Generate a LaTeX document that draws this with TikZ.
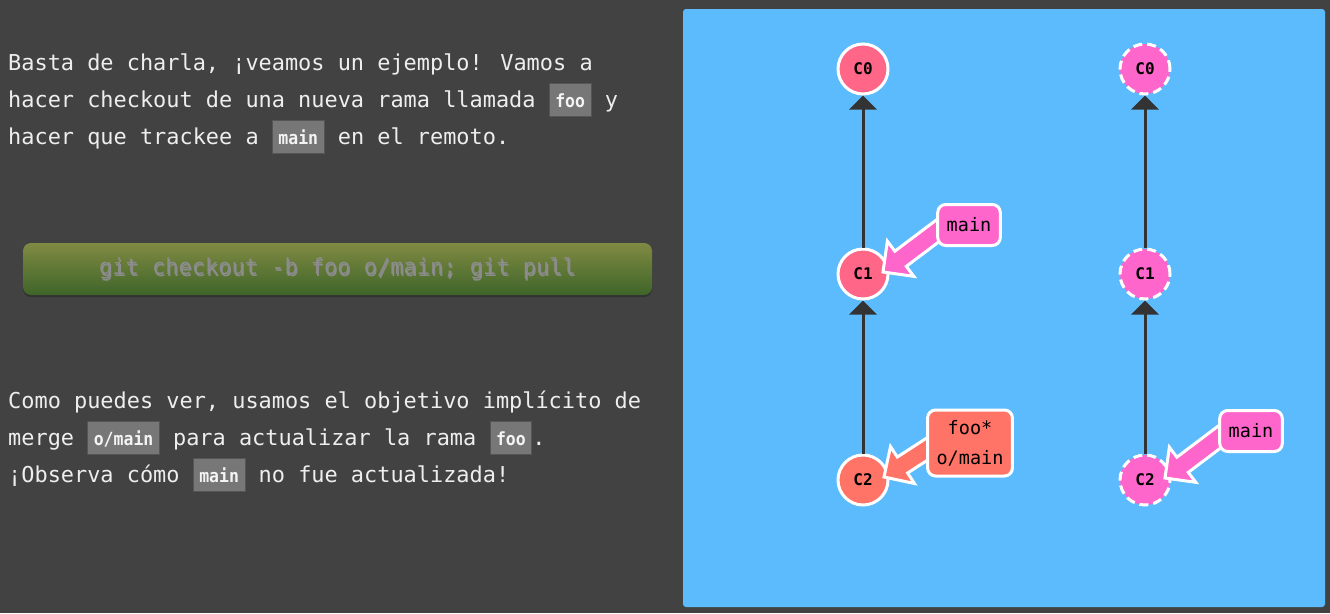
\documentclass[tikz,border=0pt]{standalone}
\usepackage{fontspec}
\setmonofont{DejaVu Sans Mono}
\newfontfamily\monof{DejaVu Sans Mono}
\usetikzlibrary{arrows.meta,calc}

\definecolor{bg}{HTML}{424242}
\definecolor{panel}{HTML}{5CBBFC}
\definecolor{txt}{HTML}{EEEEEE}
\definecolor{cfill}{HTML}{777777}
\definecolor{cbord}{HTML}{555555}
\definecolor{ctext}{HTML}{F4F4F4}
\definecolor{btntop}{HTML}{808A42}
\definecolor{btnbot}{HTML}{3E6529}
\definecolor{btntxt}{HTML}{8C8C8C}
\definecolor{commitred}{HTML}{FF6688}
\definecolor{commitsal}{HTML}{FF7466}
\definecolor{commitpink}{HTML}{FF66CC}
\definecolor{edgecol}{HTML}{333333}

% inline code chip inside the running text
\newcommand\codechip[1]{{\setlength\fboxsep{0pt}\setlength\fboxrule{1pt}%
  \fcolorbox{cbord}{cfill}{\rule[-9pt]{0pt}{32pt}\hspace{5.5pt}%
  {\fontsize{16.5}{16.5}\selectfont\bfseries\color{ctext}\scalebox{1}[1.1]{#1}}\hspace{5.5pt}}}}

% command text with a soft drop shadow
\newcommand\shadowtext[1]{\makebox[0pt][l]{\raisebox{-2pt}{\hspace{1pt}\color{black!45}#1}}#1}

% branch pointer: wide arrow from a label (#2, offset #4) to a commit (#1, offset #3)
\newcommand\brarrow[5]{%
  \path ($(#1)+(#3)$) coordinate (#1-tip)
        ($(#2)+(#4)$) coordinate (#2-tail);
  \path ($(#1-tip)!22pt!(#2-tail)$) coordinate (#1-hb);
  \filldraw[ptr, fill=#5] (#1-tip)
    -- ($(#1-hb)!22pt!90:(#2-tail)$)
    -- ($(#1-hb)!9.5pt!90:(#2-tail)$)
    -- ($(#2-tail)!9.5pt!-90:(#1-hb)$)
    -- ($(#2-tail)!9.5pt!90:(#1-hb)$)
    -- ($(#1-hb)!9.5pt!-90:(#2-tail)$)
    -- ($(#1-hb)!22pt!-90:(#2-tail)$)
    -- cycle;}

\pgfdeclarelayer{back}
\pgfdeclarelayer{mid}
\pgfsetlayers{back,mid,main}

\tikzset{
  para/.style={anchor=base west, inner sep=0pt, text=txt,
    font=\fontsize{21.9}{37}\selectfont\monof},
  cmdbtn/.style={rounded corners=8pt, minimum width=629pt, minimum height=52pt,
    top color=btntop, bottom color=btnbot, text=btntxt, inner sep=0pt,
    font=\fontsize{22}{26}\selectfont\monof},
  commit/.style={circle, minimum size=50pt, inner sep=0pt, line width=3pt,
    draw=white, font=\fontsize{16}{16}\selectfont\monof\bfseries},
  ghost/.style={commit, dash pattern=on 9pt off 5pt},
  edge/.style={draw=edgecol, line width=3pt,
    -{Triangle[length=14pt,width=27pt]}},
  branch/.style={draw=white, line width=3pt, rounded corners=8pt,
    minimum width=62pt, minimum height=41pt, inner xsep=9pt,
    font=\fontsize{18.5}{30}\selectfont\monof},
  ptr/.style={draw=white, line width=3pt, line join=miter}
}

\begin{document}
\begin{tikzpicture}[x=1pt, y=-1pt]
\useasboundingbox (0,0) rectangle (1330,613);

\begin{pgfonlayer}{back}
  \fill[bg] (0,0) rectangle (1330,613);
  \fill[panel, rounded corners=3pt] (683,9) rectangle (1325,607);

  % explanatory text
  \node[para] (t1) at (8,70) {Basta de charla, ¡veamos un ejemplo! Vamos a};
  \node[para] (t2) at (8,107) {hacer checkout de una nueva rama llamada \codechip{foo} y};
  \node[para] (t3) at (8,144) {hacer que trackee a \codechip{main} en el remoto.};

  % command button
  \fill[black!25!bg, rounded corners=8pt] (23,245) rectangle (652,297);
  \node[cmdbtn] (cmd) at (337.5,269) {\shadowtext{git checkout -b foo o/main; git pull}};

  \node[para] (u1) at (8,408) {Como puedes ver, usamos el objetivo implícito de};
  \node[para] (u2) at (8,445) {merge \codechip{o/main} para actualizar la rama \codechip{foo}.};
  \node[para] (u3) at (8,482) {¡Observa cómo \codechip{main} no fue actualizada!};

  % local repository
  \node[commit, fill=commitred] (a0) at (863,69) {C0};
  \node[commit, fill=commitred] (a1) at (863,274) {C1};
  \node[commit, fill=commitsal] (a2) at (863,480) {C2};
  \draw[edge] (a1) -- (a0);
  \draw[edge] (a2) -- (a1);

  % remote repository
  \node[ghost, fill=commitpink] (b0) at (1145,69) {C0};
  \node[ghost, fill=commitpink] (b1) at (1145,274) {C1};
  \node[ghost, fill=commitpink] (b2) at (1145,480) {C2};
  \draw[edge] (b1) -- (b0);
  \draw[edge] (b2) -- (b1);
\end{pgfonlayer}

% branch labels
\node[branch, fill=commitpink] (lmain) at (969,225) {main};
\node[branch, fill=commitsal, align=center, minimum width=83pt, minimum height=66pt]
  (lfoo) at (970,443) {foo*\\o/main};
\node[branch, fill=commitpink] (rmain) at (1251,431) {main};

\begin{pgfonlayer}{mid}
  \brarrow{a1}{lmain}{20,-2}{-9,-11}{commitpink}
  \brarrow{a2}{lfoo}{21,-3}{-12,-14}{commitsal}
  \brarrow{b2}{rmain}{20,-2}{-9,-11}{commitpink}
\end{pgfonlayer}
\end{tikzpicture}
\end{document}
